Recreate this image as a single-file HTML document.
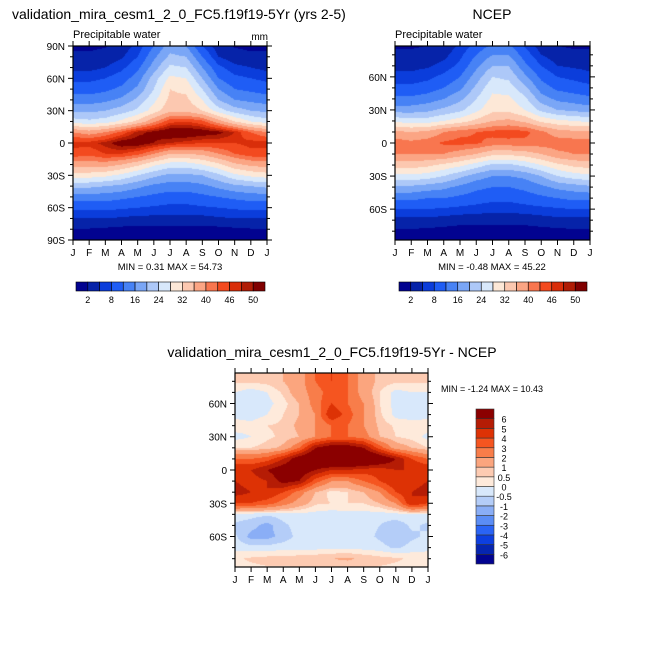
<!DOCTYPE html>
<html><head><meta charset="utf-8">
<style>
body{margin:0;background:#fff;width:664px;height:664px;overflow:hidden;font-family:"Liberation Sans",Arial,sans-serif;}
#root{position:relative;width:664px;height:664px;}
canvas{position:absolute;}
svg{position:absolute;left:0;top:0;}
</style></head>
<body>
<div id="root">
<canvas id="c1" width="194" height="194" style="left:73px;top:46px"></canvas>
<canvas id="c2" width="195" height="194" style="left:395px;top:46px"></canvas>
<canvas id="c3" width="193" height="194" style="left:235px;top:373px"></canvas>
<svg id="ov" width="664" height="664"></svg>
</div>
<script>
const months=["J","F","M","A","M","J","J","A","S","O","N","D","J"];
const gridLats=[90,80,70,60,50,40,30,20,10,0,-10,-20,-30,-40,-50,-60,-70,-80,-90];
const pwLevels=[2,5,8,12,16,20,24,28,32,36,40,43,46,48,50];
const pwLabels=["2","","8","","16","","24","","32","","40","","46","","50"];
const pwColors=['#020390','#0623a9','#0b3ddb','#1f5df5','#4782f5','#7aa6f6','#adc8f8','#d8e8fb','#fde8d7','#fcc8b0','#fba584','#f8764f','#f34a1f','#d92e0a','#b01c05','#800000'];
const dLevels=[-6,-5,-4,-3,-2,-1,-0.5,0,0.5,1,2,3,4,5,6];
const dLabels=["-6","-5","-4","-3","-2","-1","-0.5","0","0.5","1","2","3","4","5","6"];
const dColors=['#020390','#0625b0','#0d3fe0','#2a64f5','#5b8df5','#8aaef6','#b4cdf8','#d8e8fb','#feeadb','#fdcbb2','#fba57e','#f87d4a','#f55520','#dd3205','#b51c05','#8b0000'];
const modelPW=[
[1.5,1.5,1.8,3,6,12,18,16,8,3,1.8,1.5,1.5],
[2.5,2.5,3,4.5,8,15,21,20,12,5,3,2.5,2.5],
[4,4,5,7,11,18,25,24,16,9,6,5,4],
[7,7,8,10,14,22,29,28,20,12,9,8,7],
[10,10,11,13,17,24,32,31,24,16,12,11,10],
[14,14,15,17,21,27,33,33,28,20,16,15,14],
[19,19,20,22,25,30,35,35,32,26,22,20,19],
[26,25,26,29,33,39,45,46,44,38,32,28,26],
[40,38,40,44,49,51,53,53,52,51,48,43,40],
[47,47,49,52,52,50,48,47,46,46,46,47,47],
[45,44,46,46,44,40,36,36,37,40,43,45,45],
[38,38,38,36,33,29,26,26,28,31,35,37,38],
[30,30,29,27,24,21,19,19,20,23,27,29,30],
[21,21,20,19,17,15,14,14,15,17,19,20,21],
[14,14,14,13,12,11,10,10,11,12,13,14,14],
[9,9,9,8.5,8,7.5,7,7,7.5,8,8.5,9,9],
[5,5,5,4.5,4,4,4,4,4,4.5,5,5,5],
[1.8,1.8,1.5,1.2,1,1,1,1,1,1.2,1.5,1.8,1.8],
[1,1,1,0.8,0.6,0.5,0.5,0.5,0.6,0.8,1,1,1]];
const ncepPW=[
[1.5,1.5,1.8,3,5,9,12,12,7,3,1.8,1.5,1.5],
[2.5,2.5,3,4,7,12,16,16,10,5,3,2.5,2.5],
[4,4,4.5,6,9,15,20,20,13,8,5,4.5,4],
[6,6,7,9,12,18,24,23,17,11,8,7,6],
[9,9,10,12,15,21,27,26,21,14,11,10,9],
[13,13,14,16,19,24,29,29,25,18,15,14,13],
[18,18,19,21,23,27,31,31,28,23,20,19,18],
[27,26,26,28,30,33,36,37,35,31,29,28,27],
[37,36,37,40,42,43,44,44.5,44,41,38,37,37],
[42,41,42,43.5,44,43.5,42,42,42,42,42,42,42],
[40,40,40,40,38,36,33,33,34,36,39,40,40],
[34,34,33,31,29,26,23,23,25,28,31,33,34],
[27,27,26,24,21,18,16,16,17,20,24,26,27],
[19,19,18,17,15,13,12,12,13,15,17,18,19],
[13,13,12,12,11,10,9,9,10,11,12,13,13],
[8,8,8,7.5,7,6.5,6,6,6.5,7,7.5,8,8],
[4,4,4,3.5,3,3,3,3,3,3.5,4,4,4],
[1.5,1.5,1.2,1,0.8,0.8,0.8,0.8,0.8,1,1.2,1.5,1.5],
[0.5,0.5,0.5,0.5,0.5,0.5,0.5,0.5,0.5,0.5,0.5,0.5,0.5]];
const diffPW=[
[0.6,0.6,0.7,1,1.5,3,4,3,1.5,0.8,0.6,0.6,0.6],
[0.6,0.6,0.7,1,1.5,3,4,3,1.5,0.8,0.6,0.6,0.6],
[0,-0.3,0,0.6,1.5,2.5,3.5,3,1.5,0.5,-0.2,0,0],
[-0.3,-0.4,-0.2,0.3,1,2.5,4,3,2,0.5,-0.2,-0.3,-0.3],
[-0.2,-0.3,0,0.5,1,2,5,3.5,2,0.6,-0.2,-0.3,-0.2],
[0.3,0.2,0.5,0.6,1.2,2,3,3,2,0.8,0.4,0.3,0.3],
[-0.2,0,0.4,0.6,1,2,3,3,2.5,1,0.5,0.3,-0.2],
[0.5,0.5,0.7,1.2,3,6,7,7,6,3.5,1.5,1,0.5],
[3,3,3.5,5,7,8,9,9,8.5,7.5,6,4,3],
[5,5,6,7,7,6,5,5,4.5,4.5,5,5,5],
[5,4.5,5,6.5,6,3.5,2,2,3,4,5,4.5,5],
[5.5,5,5,4,2.5,1,0.3,0.5,1,2,4,5,5.5],
[4,4,3.5,2.5,1.5,0.6,0.5,0.5,0.5,1,2,5,4],
[-0.2,-0.3,-0.4,-0.3,-0.2,-0.2,-0.3,-0.2,-0.2,-0.3,-0.2,-0.2,-0.2],
[-0.6,-0.8,-1.2,-0.6,-0.3,-0.3,-0.2,-0.2,-0.3,-0.5,-0.8,-0.4,-0.6],
[-0.4,-1.2,-1.2,-0.8,-0.3,-0.3,-0.2,-0.2,-0.3,-0.6,-1,-0.6,-0.4],
[-0.2,-0.3,-0.3,-0.2,-0.2,-0.2,-0.1,-0.1,-0.2,-0.3,-0.6,-0.3,-0.2],
[0.4,0.6,0.7,0.7,0.8,0.9,1,1.1,0.9,0.7,0.6,0.4,0.4],
[0.2,0.3,0.4,0.4,0.4,0.5,0.5,0.5,0.5,0.4,0.3,0.2,0.2]];

function sample(data,lat,m){
  let r=(90-lat)/10; r=Math.max(0,Math.min(18,r));
  let r0=Math.min(17,Math.floor(r)),fr=r-r0;
  m=Math.max(0,Math.min(12,m));
  let c0=Math.min(11,Math.floor(m)),fc=m-c0;
  const a=data[r0][c0],b=data[r0][c0+1],c=data[r0+1][c0],d=data[r0+1][c0+1];
  return (a*(1-fc)+b*fc)*(1-fr)+(c*(1-fc)+d*fc)*fr;
}
function hex(h){return [parseInt(h.substr(1,2),16),parseInt(h.substr(3,2),16),parseInt(h.substr(5,2),16)];}
function drawMap(id,data,levels,colors,latTop,latBot){
  const cv=document.getElementById(id),ctx=cv.getContext('2d');
  const W=cv.width,H=cv.height,img=ctx.createImageData(W,H);
  const cols=colors.map(hex);
  for(let y=0;y<H;y++){const lat=latTop+(latBot-latTop)*(y+0.5)/H;
    for(let x=0;x<W;x++){const m=12*(x+0.5)/W;const v=sample(data,lat,m);
      let k=0;while(k<levels.length&&v>=levels[k])k++;
      const c=cols[k],i=(y*W+x)*4;img.data[i]=c[0];img.data[i+1]=c[1];img.data[i+2]=c[2];img.data[i+3]=255;}}
  ctx.putImageData(img,0,0);
}
drawMap('c1',modelPW,pwLevels,pwColors,90,-90);
drawMap('c2',ncepPW,pwLevels,pwColors,88,-88);
drawMap('c3',diffPW,dLevels,dColors,87.5,-87.5);

const NS='http://www.w3.org/2000/svg',ov=document.getElementById('ov');
function el(tag,attrs,parent){const e=document.createElementNS(NS,tag);for(const k in attrs)e.setAttribute(k,attrs[k]);(parent||ov).appendChild(e);return e;}
function txt(x,y,s,size,anchor,name){const t=el('text',{x:x,y:y,'font-size':size,'text-anchor':anchor||'start',fill:'#000','font-family':'Liberation Sans, Arial, sans-serif'});t.textContent=s;return t;}
function axes(L,T,W,H,latTop,latBot,ylabels,prefix){
  const g=el('g',{});
  
  
  el('rect',{x:L,y:T,width:W,height:H,fill:'none',stroke:'#000','stroke-width':1.2},g);
  const yOf=lat=>T+(latTop-lat)/(latTop-latBot)*H;
  for(let i=0;i<13;i++){const x=L+W*i/12;
    el('line',{x1:x,y1:T+H,x2:x,y2:T+H+5,stroke:'#000'},g);
    el('line',{x1:x,y1:T,x2:x,y2:T-5,stroke:'#000'},g);
    txt(x,T+H+16,months[i],10,'middle',prefix+'-month-label');}
  for(let lat=90;lat>=-90;lat-=10){if(lat>latTop+0.01||lat<latBot-0.01)continue;const y=yOf(lat);const maj=lat%30===0;const len=maj?5:3;
    el('line',{x1:L,y1:y,x2:L-len,y2:y,stroke:'#000'},g);
    el('line',{x1:L+W,y1:y,x2:L+W+len,y2:y,stroke:'#000'},g);}
  ylabels.forEach(lat=>{const s=lat===0?'0':(Math.abs(lat)+(lat>0?'N':'S'));txt(L-8,yOf(lat)+4,s,10,'end',prefix+'-lat-label');});
}
function hbar(L,T,W,H,colors,labels,prefix){
  const n=colors.length,bw=W/n;
  colors.forEach((c,i)=>{const r=el('rect',{x:L+i*bw,y:T,width:bw,height:H,fill:c,stroke:'#000','stroke-width':0.6});
    });
  labels.forEach((s,i)=>{if(s)txt(L+(i+1)*bw,T+H+12,s,9,'middle',prefix+'-colorbar-label');});
}
function vbar(L,T,W,H,colors,labels,prefix){
  const n=colors.length,bh=H/n;
  colors.forEach((c,i)=>{const r=el('rect',{x:L,y:T+H-(i+1)*bh,width:W,height:bh,fill:c,stroke:'#333','stroke-width':0.6});
    });
  labels.forEach((s,i)=>{txt(L+W+10,T+H-(i+1)*bh+4,s,9,'middle',prefix+'-colorbar-label');});
}
txt(12,19,'validation_mira_cesm1_2_0_FC5.f19f19-5Yr (yrs 2-5)',14,'start','model-title');
txt(73,38,'Precipitable water',11,'start','model-variable-label');
txt(268,40,'mm',10,'end','model-units');
axes(73,46,194,194,90,-90,[90,60,30,0,-30,-60,-90],'model');
txt(170,270,'MIN =   0.31 MAX =  54.73',9.5,'middle','model-minmax');
hbar(76,282,189,9,pwColors,pwLabels,'model');
txt(492,19,'NCEP',14,'middle','ncep-title');
txt(395,38,'Precipitable water',11,'start','ncep-variable-label');
axes(395,46,195,194,88,-88,[60,30,0,-30,-60],'ncep');
txt(492,270,'MIN =  -0.48 MAX =  45.22',9.5,'middle','ncep-minmax');
hbar(399,282,188,9,pwColors,pwLabels,'ncep');
txt(332,357,'validation_mira_cesm1_2_0_FC5.f19f19-5Yr - NCEP',14,'middle','difference-title');
axes(235,373,193,194,87.5,-87.5,[60,30,0,-30,-60],'difference');
txt(441,392,'MIN =  -1.24 MAX =  10.43',9,'start','difference-minmax');
vbar(476,409,18,155,dColors,dLabels,'difference');
</script>
</body></html>
